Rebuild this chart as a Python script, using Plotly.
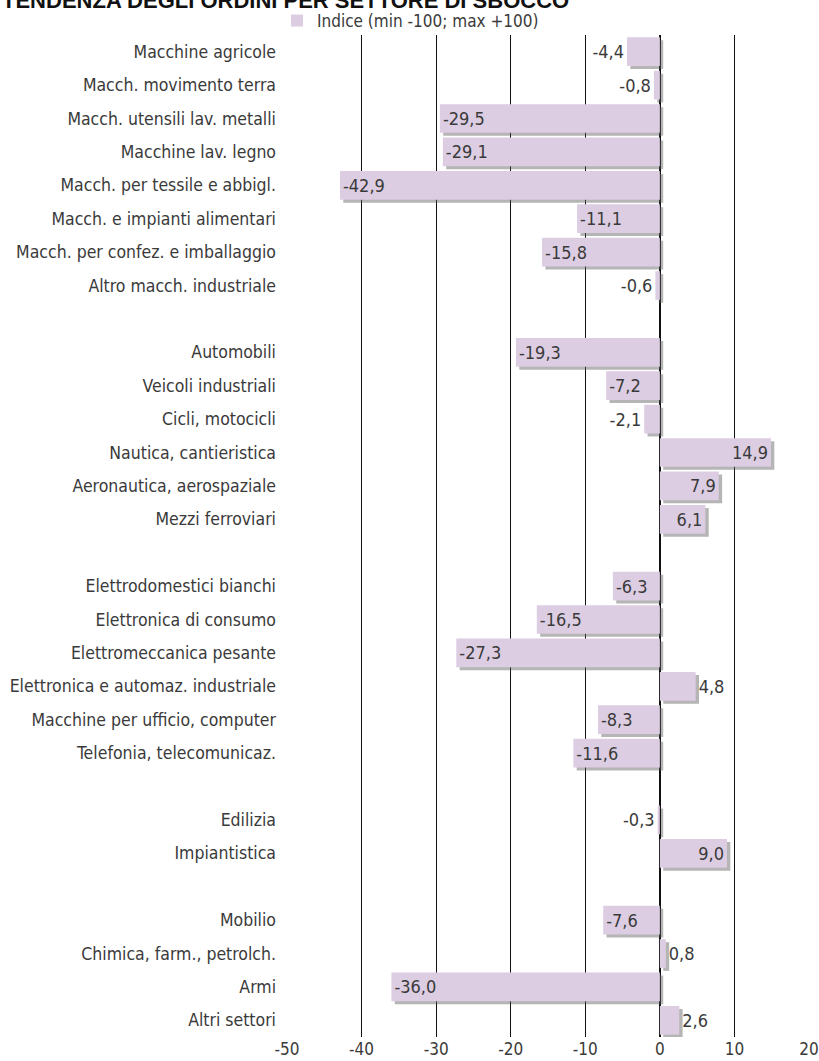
import plotly.graph_objects as go

# ---- data (top to bottom, None = group gap) ----
categories = [
    "Macchine agricole", "Macch. movimento terra", "Macch. utensili lav. metalli",
    "Macchine lav. legno", "Macch. per tessile e abbigl.", "Macch. e impianti alimentari",
    "Macch. per confez. e imballaggio", "Altro macch. industriale", None,
    "Automobili", "Veicoli industriali", "Cicli, motocicli", "Nautica, cantieristica",
    "Aeronautica, aerospaziale", "Mezzi ferroviari", None,
    "Elettrodomestici bianchi", "Elettronica di consumo", "Elettromeccanica pesante",
    "Elettronica e automaz. industriale", "Macchine per ufficio, computer",
    "Telefonia, telecomunicaz.", None,
    "Edilizia", "Impiantistica", None,
    "Mobilio", "Chimica, farm., petrolch.", "Armi", "Altri settori",
]
values = [
    -4.4, -0.8, -29.5, -29.1, -42.9, -11.1, -15.8, -0.6, None,
    -19.3, -7.2, -2.1, 14.9, 7.9, 6.1, None,
    -6.3, -16.5, -27.3, 4.8, -8.3, -11.6, None,
    -0.3, 9.0, None,
    -7.6, 0.8, -36.0, 2.6,
]
x_ticks = [-50, -40, -30, -20, -10, 0, 10, 20]
title = "TENDENZA DEGLI ORDINI PER SETTORE DI SBOCCO"
legend_name = "Indice (min -100; max +100)"

pos = [i for i, c in enumerate(categories) if c is not None]
labs = [categories[i] for i in pos]
vals = [values[i] for i in pos]
txt = [f"{v:.1f}".replace(".", ",") for v in vals]
tpos = ["inside" if abs(v) >= 5.5 else "outside" for v in vals]

FONT = "Liberation Sans Narrow, DejaVu Sans Condensed, Arial Narrow, sans-serif"
BAR = "#dccde2"
TXT = "#3a3a3a"

fig = go.Figure()
# drop shadow
fig.add_trace(go.Bar(
    y=pos, x=vals, base=0.45, orientation="h", width=0.86, offset=-0.43 + 0.09,
    marker=dict(color="rgba(90,90,90,0.45)", line=dict(width=0)),
    hoverinfo="skip", showlegend=False,
))
fig.add_trace(go.Bar(
    y=pos, x=vals, orientation="h", width=0.86, name=legend_name,
    marker=dict(color=BAR, line=dict(width=0)),
    text=txt, textposition=tpos, insidetextanchor="end",
    insidetextfont=dict(family=FONT, size=18, color=TXT),
    outsidetextfont=dict(family=FONT, size=18, color=TXT),
    cliponaxis=False, showlegend=True,
))

fig.update_layout(
    width=819, height=1061,
    margin=dict(l=287, r=10, t=35, b=24, autoexpand=False),
    paper_bgcolor="white", plot_bgcolor="white",
    barmode="overlay", separators=",.",
    uniformtext=dict(minsize=18, mode="show"),
    font=dict(family=FONT, size=16, color=TXT),
    showlegend=True,
    legend=dict(orientation="h", x=-10 / 522, y=1 - 4 / 1002, xanchor="left", yanchor="bottom",
                itemwidth=30, font=dict(family=FONT, size=17, color=TXT),
                bgcolor="rgba(0,0,0,0)"),
    xaxis=dict(range=[-50, 20], tickvals=x_ticks, ticktext=[str(t) for t in x_ticks],
               automargin=False,
               showgrid=True, gridcolor="#111", gridwidth=1.4,
               zeroline=True, zerolinecolor="#111", zerolinewidth=2,
               showline=False, ticks="", tickfont=dict(family=FONT, size=17, color=TXT)),
    yaxis=dict(range=[len(categories) - 0.5, -0.5], tickvals=pos, ticktext=labs,
               automargin=False,
               showgrid=False, zeroline=False, showline=False, ticks="",
               ticklabelstandoff=10, tickfont=dict(family=FONT, size=17.5, color=TXT)),
    annotations=[dict(text=f"<b>{title}</b>", xref="paper", yref="paper",
                      x=-287 / 522, y=1 + 20 / 1002, xanchor="left", yanchor="bottom",
                      showarrow=False, font=dict(family="Liberation Sans, Arial, sans-serif",
                                                 size=22, color="#111"))],
)
fig.write_html("out.html")
